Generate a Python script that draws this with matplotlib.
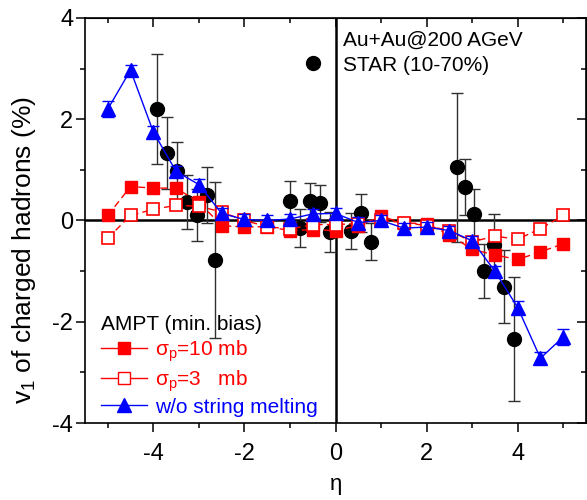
import matplotlib
matplotlib.use('Agg')
import matplotlib.pyplot as plt
from matplotlib.lines import Line2D
from matplotlib.ticker import MultipleLocator

plt.rcParams['font.family'] = ['Liberation Sans', 'DejaVu Sans']
plt.rcParams['mathtext.fontset'] = 'custom'
plt.rcParams['mathtext.rm'] = 'Liberation Sans'
plt.rcParams['mathtext.it'] = 'Liberation Sans:italic'
plt.rcParams['mathtext.sf'] = 'Liberation Sans'
plt.rcParams['axes.unicode_minus'] = False

# ---------------- data ----------------
eta_model = [-5, -4.5, -4, -3.5, -3, -2.5, -2, -1.5, -1, -0.5, 0,
             0.5, 1, 1.5, 2, 2.5, 3, 3.5, 4, 4.5, 5]

v1_sigma10 = [0.10, 0.67, 0.64, 0.64, 0.36, -0.10, -0.13, -0.12, -0.20, -0.18, -0.20,
              -0.10, 0.08, -0.05, -0.06, -0.28, -0.57, -0.68, -0.77, -0.62, -0.46]
err_sigma10 = [0.08, 0.06, 0.06, 0.06, 0.07, 0.08, 0.08, 0.08, 0.08, 0.08, 0.08,
               0.08, 0.08, 0.08, 0.08, 0.08, 0.07, 0.06, 0.06, 0.06, 0.08]

v1_sigma3 = [-0.35, 0.10, 0.22, 0.30, 0.28, 0.17, 0.00, -0.12, -0.17, -0.08, -0.08,
             -0.06, 0.00, -0.04, -0.10, -0.20, -0.42, -0.31, -0.37, -0.16, 0.10]
err_sigma3 = [0.08, 0.06, 0.06, 0.08, 0.08, 0.08, 0.08, 0.08, 0.08, 0.08, 0.08,
              0.08, 0.08, 0.08, 0.08, 0.08, 0.08, 0.06, 0.06, 0.06, 0.06]

v1_nosm = [2.20, 2.97, 1.75, 0.97, 0.71, 0.14, 0.02, 0.00, 0.03, 0.13, 0.14,
           -0.04, 0.00, -0.15, -0.13, -0.20, -0.40, -1.00, -1.72, -2.72, -2.30]
err_nosm = [0.16, 0.10, 0.12, 0.10, 0.10, 0.10, 0.10, 0.10, 0.10, 0.10, 0.10,
            0.10, 0.10, 0.10, 0.10, 0.10, 0.10, 0.10, 0.12, 0.12, 0.16]

eta_star = [-3.91, -3.70, -3.47, -3.25, -3.03, -2.82, -2.64,
            -0.99, -0.77, -0.56, -0.34, -0.12, 0.35, 0.57, 0.79,
            2.66, 2.84, 3.03, 3.27, 3.48, 3.71, 3.91]
v1_star = [2.20, 1.33, 0.98, 0.37, 0.11, 0.50, -0.78,
           0.38, -0.15, 0.38, 0.34, -0.23, -0.21, 0.15, -0.42,
           1.05, 0.66, 0.13, -1.00, -0.48, -1.31, -2.34]
err_star = [1.09, 0.71, 0.57, 0.53, 0.51, 0.55, 1.55,
            0.41, 0.37, 0.36, 0.37, 0.40, 0.36, 0.37, 0.37,
            1.47, 0.55, 0.50, 0.53, 0.60, 0.72, 1.22]

xticks = [-4, -2, 0, 2, 4]
yticks = [-4, -2, 0, 2, 4]

RED = '#ff0000'
BLUE = '#0000ff'

# ---------------- figure ----------------
fig = plt.figure(figsize=(5.87, 5.0), dpi=100)
ax = fig.add_axes([85/587, 1-423/500, 501/587, 405/500])

ax.axhline(0, color='black', lw=1.8, zorder=1)
ax.axvline(0, color='black', lw=1.8, zorder=1)

ax.errorbar(eta_star, v1_star, yerr=err_star, fmt='o', color='black',
            ecolor='#303030', elinewidth=1.0, capsize=4, capthick=1.0,
            ms=10, zorder=3)

ax.errorbar(eta_model, v1_sigma10, yerr=err_sigma10, fmt='s', color=RED,
            ms=8.5, mfc=RED, mec=RED, lw=1.0, ls=(0, (5, 3)),
            elinewidth=0.8, capsize=3, zorder=4)
ax.errorbar(eta_model, v1_sigma3, yerr=err_sigma3, fmt='s', color=RED,
            ms=8.5, mfc='white', mec=RED, mew=1.2, lw=1.0, ls=(0, (5, 3)),
            elinewidth=0.8, capsize=3, zorder=4)
ax.errorbar(eta_model, v1_nosm, yerr=err_nosm, fmt='^', color=BLUE,
            ms=10, mfc=BLUE, mec=BLUE, lw=1.0, ls='-',
            elinewidth=0.8, capsize=4, zorder=5)

ax.set_xlim(-5.5, 5.5)
ax.set_ylim(-4, 4)
ax.set_xticks(xticks)
ax.set_yticks(yticks)
ax.xaxis.set_minor_locator(MultipleLocator(1))
ax.yaxis.set_minor_locator(MultipleLocator(1))
ax.tick_params(which='both', direction='out', labelsize=17, width=1.1)
ax.tick_params(which='major', length=6.5)
ax.tick_params(which='minor', length=3.5)
ax.tick_params(axis='x', which='major', pad=8)
ax.tick_params(axis='y', which='major', pad=2)
for s in ax.spines.values():
    s.set_linewidth(1.2)

# inward ticks on top and right
sx = ax.secondary_xaxis('top')
sx.set_xticks(xticks)
sx.xaxis.set_minor_locator(MultipleLocator(1))
sx.tick_params(which='both', direction='in', labeltop=False, width=1.1)
sx.tick_params(which='major', length=6.5)
sx.tick_params(which='minor', length=3.5)
sy = ax.secondary_yaxis('right')
sy.set_yticks(yticks)
sy.yaxis.set_minor_locator(MultipleLocator(1))
sy.tick_params(which='both', direction='in', labelright=False, width=1.1)
sy.tick_params(which='major', length=6.5)
sy.tick_params(which='minor', length=3.5)

ax.set_xlabel(r'$\mathregular{\eta}$', fontsize=16)
ax.xaxis.set_label_coords(0.5, -0.13)
ax.set_ylabel(r'v$_\mathregular{1}$ of charged hadrons (%)', fontsize=19)
ax.yaxis.set_label_coords(-0.094, 0.427)

# STAR label
ax.plot([0.455], [0.889], 'o', color='black', ms=10, transform=ax.transAxes,
        clip_on=False)
ax.text(0.515, 0.931, 'Au+Au@200 AGeV', transform=ax.transAxes, fontsize=15,
        va='baseline', ha='left')
ax.text(0.515, 0.869, 'STAR (10-70%)', transform=ax.transAxes, fontsize=15,
        va='baseline', ha='left')

# AMPT legend
handles = [
    Line2D([], [], color=RED, marker='s', ms=8, mfc=RED, mec=RED, lw=1.0),
    Line2D([], [], color=RED, marker='s', ms=8, mfc='white', mec=RED, lw=1.0),
    Line2D([], [], color=BLUE, marker='^', ms=10, mfc=BLUE, mec=BLUE, lw=1.0),
]
labels = [r'$\mathregular{\sigma_p}$=10 mb', r'$\mathregular{\sigma_p}$=3   mb', 'w/o string melting']
leg = ax.legend(handles, labels, loc='lower left', bbox_to_anchor=(0.02, 0.0),
                frameon=False, fontsize=15,
                title='AMPT (min. bias)', title_fontsize=15,
                handlelength=2.2, handletextpad=0.4, labelspacing=0.2,
                borderaxespad=0.2, borderpad=0.1)
leg._legend_box.align = 'left'
for t, c in zip(leg.get_texts(), [RED, RED, BLUE]):
    t.set_color(c)

fig.savefig('out.png', dpi=100)
